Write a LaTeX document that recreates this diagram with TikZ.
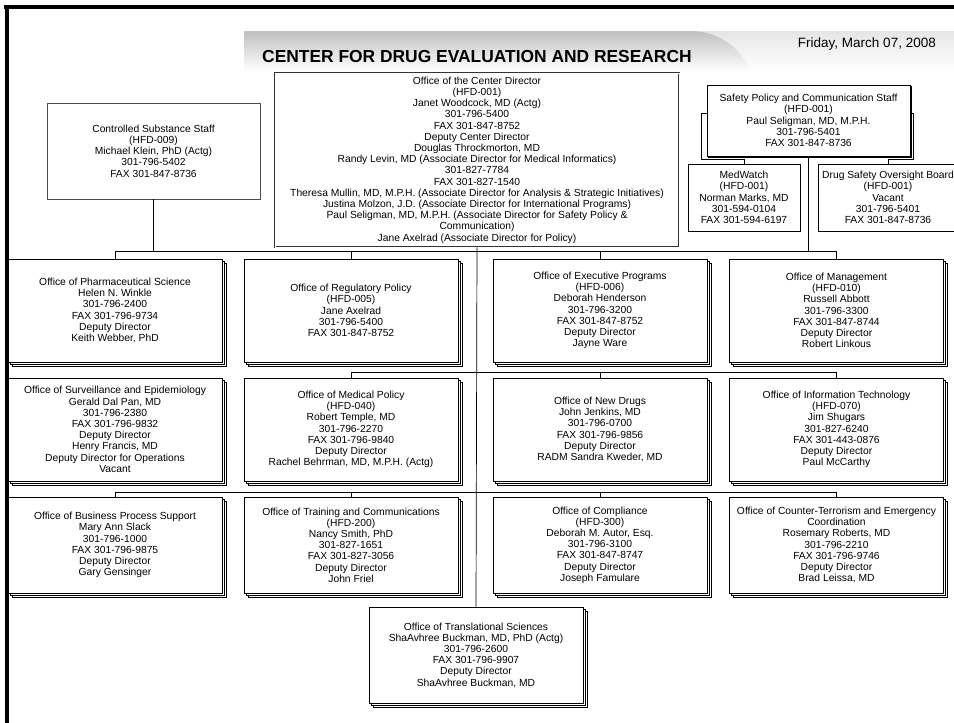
\documentclass[tikz,border=0pt]{standalone}
\usepackage{fontspec}
\setmainfont{Liberation Sans}
\usetikzlibrary{shadows}

\tikzset{
  unit/.style={draw=black, fill=white, line width=0.6pt, align=center, inner sep=0pt,
    font=\fontsize{10.3}{11.2}\selectfont},
  office/.style={unit, minimum width=214pt, minimum height=103pt,
    double copy shadow={shadow xshift=2pt, shadow yshift=-2pt}},
  link/.style={draw=black, line width=0.7pt},
}

\begin{document}
\begin{tikzpicture}[x=1pt, y=-1pt]
\useasboundingbox (0,0) rectangle (954,723);
\clip (0,0) rectangle (954,723);

% frame and banner
\shade[top color=gray!20, bottom color=white] (244,31) rectangle (954,71);
\shade[top color=gray!50, bottom color=white] (244,31) -- (690,31) .. controls (722,31) and (740,50) .. (752,71) -- (244,71) -- cycle;
\draw[line width=3.5pt] (4,7) -- (954,7);
\draw[line width=3.5pt] (7,7) -- (7,723);
\node[anchor=base west, inner sep=0pt, font=\fontsize{17.4}{19}\selectfont\bfseries] (title) at (262,62) {CENTER FOR DRUG EVALUATION AND RESEARCH};
\node[anchor=base east, inner sep=0pt, font=\fontsize{13.5}{15}\selectfont] (date) at (936,47) {Friday, March 07, 2008};

% top level
\node[unit, minimum width=404pt, minimum height=174pt, draw=black!80, line width=0.9pt, double, double distance=0.8pt] (cod) at (477,160) {Office of the Center Director\\(HFD-001)\\Janet Woodcock, MD (Actg)\\301-796-5400\\FAX 301-847-8752\\Deputy Center Director\\Douglas Throckmorton, MD\\Randy Levin, MD (Associate Director for Medical Informatics)\\301-827-7784\\FAX 301-827-1540\\Theresa Mullin, MD, M.P.H. (Associate Director for Analysis \& Strategic Initiatives)\\Justina Molzon, J.D. (Associate Director for International Programs)\\Paul Seligman, MD, M.P.H. (Associate Director for Safety Policy \&\\Communication)\\Jane Axelrad (Associate Director for Policy)};
\node[unit, draw=black!70, minimum width=213pt, minimum height=96pt] (css) at (153.5,151) {Controlled Substance Staff\\(HFD-009)\\Michael Klein, PhD (Actg)\\301-796-5402\\FAX 301-847-8736};
\node[unit, minimum width=203pt, minimum height=71pt, copy shadow={shadow xshift=1.5pt, shadow yshift=-1.5pt}] (sps) at (808.5,120.5) {Safety Policy and Communication Staff\\(HFD-001)\\Paul Seligman, MD, M.P.H.\\301-796-5401\\FAX 301-847-8736};
\node[unit, minimum width=112pt, minimum height=67pt] (medwatch) at (744,197.5) {MedWatch\\(HFD-001)\\Norman Marks, MD\\301-594-0104\\FAX 301-594-6197};
\node[unit, minimum width=140pt, minimum height=67pt] (dsob) at (888,197.5) {Drug Safety Oversight Board\\(HFD-001)\\Vacant\\301-796-5401\\FAX 301-847-8736};

% row 1
\node[office] (ops) at (115,310.5) {Office of Pharmaceutical Science\\Helen N. Winkle\\301-796-2400\\FAX 301-796-9734\\Deputy Director\\Keith Webber, PhD};
\node[office] (orp) at (351,310.5) {Office of Regulatory Policy\\(HFD-005)\\Jane Axelrad\\301-796-5400\\FAX 301-847-8752};
\node[office] (oep) at (600,310.5) {Office of Executive Programs\\(HFD-006)\\Deborah Henderson\\301-796-3200\\FAX 301-847-8752\\Deputy Director\\Jayne Ware};
\node[office] (om) at (836.5,310.5) {Office of Management\\(HFD-010)\\Russell Abbott\\301-796-3300\\FAX 301-847-8744\\Deputy Director\\Robert Linkous};

% row 2
\node[office] (ose) at (115,429.5) {Office of Surveillance and Epidemiology\\Gerald Dal Pan, MD\\301-796-2380\\FAX 301-796-9832\\Deputy Director\\Henry Francis, MD\\Deputy Director for Operations\\Vacant};
\node[office] (omp) at (351,429.5) {Office of Medical Policy\\(HFD-040)\\Robert Temple, MD\\301-796-2270\\FAX 301-796-9840\\Deputy Director\\Rachel Behrman, MD, M.P.H. (Actg)};
\node[office] (ond) at (600,429.5) {Office of New Drugs\\John Jenkins, MD\\301-796-0700\\FAX 301-796-9856\\Deputy Director\\RADM Sandra Kweder, MD};
\node[office] (oit) at (836.5,429.5) {Office of Information Technology\\(HFD-070)\\Jim Shugars\\301-827-6240\\FAX 301-443-0876\\Deputy Director\\Paul McCarthy};

% row 3
\node[office, minimum height=96pt] (obps) at (115,545) {Office of Business Process Support\\Mary Ann Slack\\301-796-1000\\FAX 301-796-9875\\Deputy Director\\Gary Gensinger};
\node[office, minimum height=96pt] (otc) at (351,545) {Office of Training and Communications\\(HFD-200)\\Nancy Smith, PhD\\301-827-1651\\FAX 301-827-3056\\Deputy Director\\John Friel};
\node[office, minimum height=96pt] (oc) at (600,545) {Office of Compliance\\(HFD-300)\\Deborah M. Autor, Esq.\\301-796-3100\\FAX 301-847-8747\\Deputy Director\\Joseph Famulare};
\node[office, minimum height=96pt] (octec) at (836.5,545) {Office of Counter-Terrorism and Emergency\\Coordination\\Rosemary Roberts, MD\\301-796-2210\\FAX 301-796-9746\\Deputy Director\\Brad Leissa, MD};

% row 4
\node[office, minimum height=96pt] (ots) at (476,655) {Office of Translational Sciences\\ShaAvhree Buckman, MD, PhD (Actg)\\301-796-2600\\FAX 301-796-9907\\Deputy Director\\ShaAvhree Buckman, MD};

% connectors
\coordinate (bus) at (477,252);
\draw[link] (ops.north) -- ++(0,-7) -| (om.north);
\draw[link] (orp.north) -- (orp.north |- bus);
\draw[link] (oep.north) -- (oep.north |- bus);
\draw[link] (css.south) -- (css.south |- bus);
\draw[link] (sps.south) -- (sps.south |- bus);
\draw[link] (omp.north) -- ++(0,-5) -| (oit.north);
\draw[link] (ond.north) -- ++(0,-5);
\draw[link] (obps.north) -- ++(0,-4) -| (octec.north);
\draw[link] (otc.north) -- ++(0,-4);
\draw[link] (oc.north) -- ++(0,-4);
\draw[link] (cod.south) -- (ots.north);
\draw[link] ([yshift=7.5pt]sps.west) -- ++(-5,0) |- ([yshift=4pt]medwatch.north) -- (medwatch.north);
\draw[link] ([yshift=7.5pt]sps.east) -- ++(3,0) |- ([yshift=4pt]dsob.north) -- (dsob.north);
\end{tikzpicture}
\end{document}
